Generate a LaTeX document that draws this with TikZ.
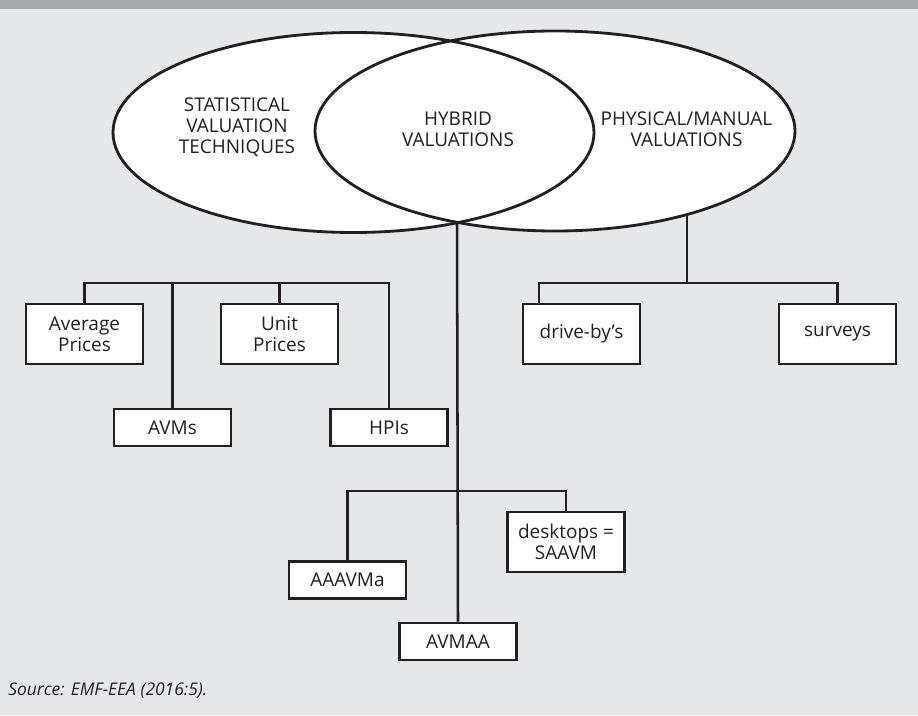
\documentclass[tikz,border=0pt]{standalone}
\usepackage{fontspec}
\setmainfont{Open Sans}
\definecolor{paper}{HTML}{E6E7E8}
\definecolor{band}{HTML}{A7A9AC}
\definecolor{ink}{HTML}{231F20}

\tikzset{
  leaf/.style={draw=ink, fill=white, line width=1.9pt, minimum width=2.925cm,
    align=center, inner sep=0pt, text=ink},
  twoline/.style={leaf, minimum height=1.5cm},
  oneline/.style={leaf, minimum height=0.925cm},
  wire/.style={draw=ink, line width=1.8pt},
  setrim/.style={draw=ink, line width=2pt},
  setlabel/.style={align=center, text=ink}
}

\begin{document}
\begin{tikzpicture}[x=0.025cm, y=-0.025cm,
  font=\fontsize{13.5pt}{15pt}\selectfont]

% ---------- page (pixel grid of the source, y downwards) ----------
\fill[paper] (0,0) rectangle (918,715);
\useasboundingbox (0,0) rectangle (918,715);
\fill[band] (0,0) rectangle (918,9);

% ---------- bar levels and feet ----------
\coordinate (sbar) at (0,283);
\coordinate (pbar) at (0,283);
\coordinate (hbar) at (0,491);
\coordinate (hybfoot) at (457,223);
\coordinate (physfoot) at (687,215);

% ---------- boxes ----------
\node[twoline] (avg) at (84.5,334) {Average\\Prices};
\node[twoline] (unit) at (279.5,334) {Unit\\Prices};
\node[oneline] (avm) at (172.5,427.5) {AVMs};
\node[oneline] (hpi) at (389,427.5) {HPIs};
\node[twoline] (drive) at (581.5,334) {drive-by’s};
\node[twoline] (surv) at (837.5,334) {surveys};
\node[oneline] (aaa) at (347.5,580) {AAAVMa};
\node[twoline] (desk) at (566,542) {desktops =\\SAAVM};
\node[oneline] (avmaa) at (458,641.5) {AVMAA};

% ---------- connectors ----------
\draw[wire] (avg.north) |- (hpi.north |- sbar) -- (hpi.north);
\draw[wire] (avm.north) -- (avm.north |- sbar);
\draw[wire] (unit.north) -- (unit.north |- sbar);
\draw[wire] (physfoot) -- (physfoot |- pbar);
\draw[wire] ([xshift=-1.0625cm]drive.north) |- (surv.north |- pbar) -- (surv.north);
\draw[wire] (hybfoot) -- (avmaa.north);
\draw[wire] (aaa.north) |- (desk.north |- hbar) -- (desk.north);

% ---------- the two sets ----------
\fill[white] (353.5,132.5) ellipse [x radius=240.5, y radius=100];
\fill[white] (555,131) ellipse [x radius=240, y radius=100];
\draw[setrim] (353.5,132.5) ellipse [x radius=240.5, y radius=100];
\draw[setrim] (555,131) ellipse [x radius=240, y radius=100];

\node[setlabel] (statlbl) at (237,127.5) {STATISTICAL\\VALUATION\\TECHNIQUES};
\node[setlabel] (hyblbl) at (458,129.5) {HYBRID\\VALUATIONS};
\node[setlabel] (physlbl) at (686.5,129) {PHYSICAL/MANUAL\\VALUATIONS};

% ---------- source ----------
\node[anchor=base west, inner sep=0pt, text=ink,
  font=\fontsize{12.4pt}{15pt}\selectfont\itshape]
  (src) at (8,695) {Source: EMF-EEA (2016:5).};

\end{tikzpicture}
\end{document}
